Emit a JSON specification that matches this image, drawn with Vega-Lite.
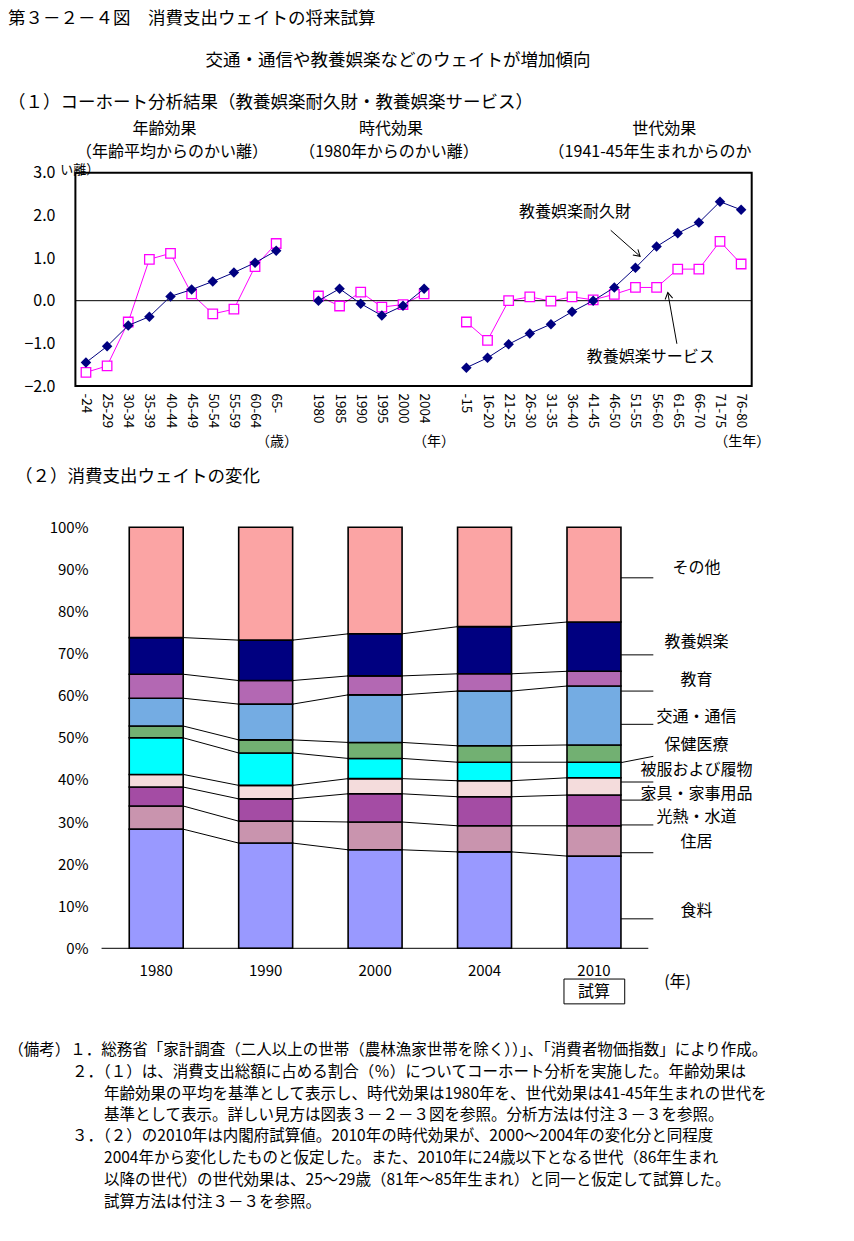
{
  "$schema": "https://vega.github.io/schema/vega-lite/v6.json",
  "autosize": {"type": "pad"},
  "padding": 0,
  "background": "white",
  "spacing": 0,
  "bounds": "flush",
  "config": {
    "font": "Noto Sans CJK JP",
    "view": {"stroke": null},
    "axis": {"grid": false, "ticks": false, "domain": false, "labelColor": "#000", "titleOpacity": 0, "minExtent": 0, "maxExtent": 0},
    "title": {"color": "#000", "subtitleColor": "#000", "fontWeight": "normal", "subtitleFontWeight": "normal"}
  },
  "title": {
    "text": "第３－２－４図　消費支出ウェイトの将来試算",
    "subtitle": "（１）コーホート分析結果（教養娯楽耐久財・教養娯楽サービス）",
    "anchor": "start",
    "frame": "group",
    "orient": "top",
    "dx": 8,
    "offset": -111,
    "fontSize": 17.5,
    "subtitleFontSize": 17.5,
    "subtitlePadding": 66.5
  },
  "datasets": {
    "effects": [
      {"s": "耐久財", "g": "年齢", "c": "-24", "v": -1.45},
      {"s": "耐久財", "g": "年齢", "c": "25-29", "v": -1.07},
      {"s": "耐久財", "g": "年齢", "c": "30-34", "v": -0.58},
      {"s": "耐久財", "g": "年齢", "c": "35-39", "v": -0.375},
      {"s": "耐久財", "g": "年齢", "c": "40-44", "v": 0.10},
      {"s": "耐久財", "g": "年齢", "c": "45-49", "v": 0.26},
      {"s": "耐久財", "g": "年齢", "c": "50-54", "v": 0.45},
      {"s": "耐久財", "g": "年齢", "c": "55-59", "v": 0.66},
      {"s": "耐久財", "g": "年齢", "c": "60-64", "v": 0.89},
      {"s": "耐久財", "g": "年齢", "c": "65-", "v": 1.17},
      {"s": "耐久財", "g": "時代", "c": "1980", "v": 0.0},
      {"s": "耐久財", "g": "時代", "c": "1985", "v": 0.28},
      {"s": "耐久財", "g": "時代", "c": "1990", "v": -0.07},
      {"s": "耐久財", "g": "時代", "c": "1995", "v": -0.35},
      {"s": "耐久財", "g": "時代", "c": "2000", "v": -0.12},
      {"s": "耐久財", "g": "時代", "c": "2004", "v": 0.28},
      {"s": "耐久財", "g": "世代", "c": "-15", "v": -1.57},
      {"s": "耐久財", "g": "世代", "c": "16-20", "v": -1.34},
      {"s": "耐久財", "g": "世代", "c": "21-25", "v": -1.02},
      {"s": "耐久財", "g": "世代", "c": "26-30", "v": -0.77},
      {"s": "耐久財", "g": "世代", "c": "31-35", "v": -0.55},
      {"s": "耐久財", "g": "世代", "c": "36-40", "v": -0.26},
      {"s": "耐久財", "g": "世代", "c": "41-45", "v": 0.0},
      {"s": "耐久財", "g": "世代", "c": "46-50", "v": 0.31},
      {"s": "耐久財", "g": "世代", "c": "51-55", "v": 0.77},
      {"s": "耐久財", "g": "世代", "c": "56-60", "v": 1.27},
      {"s": "耐久財", "g": "世代", "c": "61-65", "v": 1.58},
      {"s": "耐久財", "g": "世代", "c": "66-70", "v": 1.83},
      {"s": "耐久財", "g": "世代", "c": "71-75", "v": 2.32},
      {"s": "耐久財", "g": "世代", "c": "76-80", "v": 2.13},
      {"s": "サービス", "g": "年齢", "c": "-24", "v": -1.68},
      {"s": "サービス", "g": "年齢", "c": "25-29", "v": -1.53},
      {"s": "サービス", "g": "年齢", "c": "30-34", "v": -0.50},
      {"s": "サービス", "g": "年齢", "c": "35-39", "v": 0.97},
      {"s": "サービス", "g": "年齢", "c": "40-44", "v": 1.11},
      {"s": "サービス", "g": "年齢", "c": "45-49", "v": 0.16},
      {"s": "サービス", "g": "年齢", "c": "50-54", "v": -0.31},
      {"s": "サービス", "g": "年齢", "c": "55-59", "v": -0.20},
      {"s": "サービス", "g": "年齢", "c": "60-64", "v": 0.80},
      {"s": "サービス", "g": "年齢", "c": "65-", "v": 1.34},
      {"s": "サービス", "g": "時代", "c": "1980", "v": 0.11},
      {"s": "サービス", "g": "時代", "c": "1985", "v": -0.125},
      {"s": "サービス", "g": "時代", "c": "1990", "v": 0.20},
      {"s": "サービス", "g": "時代", "c": "1995", "v": -0.15},
      {"s": "サービス", "g": "時代", "c": "2000", "v": -0.09},
      {"s": "サービス", "g": "時代", "c": "2004", "v": 0.16},
      {"s": "サービス", "g": "世代", "c": "-15", "v": -0.50},
      {"s": "サービス", "g": "世代", "c": "16-20", "v": -0.93},
      {"s": "サービス", "g": "世代", "c": "21-25", "v": 0.0},
      {"s": "サービス", "g": "世代", "c": "26-30", "v": 0.09},
      {"s": "サービス", "g": "世代", "c": "31-35", "v": -0.01},
      {"s": "サービス", "g": "世代", "c": "36-40", "v": 0.09},
      {"s": "サービス", "g": "世代", "c": "41-45", "v": 0.02},
      {"s": "サービス", "g": "世代", "c": "46-50", "v": 0.15},
      {"s": "サービス", "g": "世代", "c": "51-55", "v": 0.31},
      {"s": "サービス", "g": "世代", "c": "56-60", "v": 0.31},
      {"s": "サービス", "g": "世代", "c": "61-65", "v": 0.74},
      {"s": "サービス", "g": "世代", "c": "66-70", "v": 0.74},
      {"s": "サービス", "g": "世代", "c": "71-75", "v": 1.39},
      {"s": "サービス", "g": "世代", "c": "76-80", "v": 0.86}
    ],
    "shares": [
      {"year": "1980", "cat": "食料", "value": 28.3},
      {"year": "1980", "cat": "住居", "value": 5.5},
      {"year": "1980", "cat": "光熱・水道", "value": 4.5},
      {"year": "1980", "cat": "家具・家事用品", "value": 3.0},
      {"year": "1980", "cat": "被服および履物", "value": 8.7},
      {"year": "1980", "cat": "保健医療", "value": 2.8},
      {"year": "1980", "cat": "交通・通信", "value": 6.6},
      {"year": "1980", "cat": "教育", "value": 5.7},
      {"year": "1980", "cat": "教養娯楽", "value": 8.7},
      {"year": "1980", "cat": "その他", "value": 26.2},
      {"year": "1990", "cat": "食料", "value": 25.0},
      {"year": "1990", "cat": "住居", "value": 5.2},
      {"year": "1990", "cat": "光熱・水道", "value": 5.3},
      {"year": "1990", "cat": "家具・家事用品", "value": 3.2},
      {"year": "1990", "cat": "被服および履物", "value": 7.7},
      {"year": "1990", "cat": "保健医療", "value": 3.1},
      {"year": "1990", "cat": "交通・通信", "value": 8.5},
      {"year": "1990", "cat": "教育", "value": 5.6},
      {"year": "1990", "cat": "教養娯楽", "value": 9.6},
      {"year": "1990", "cat": "その他", "value": 26.8},
      {"year": "2000", "cat": "食料", "value": 23.4},
      {"year": "2000", "cat": "住居", "value": 6.6},
      {"year": "2000", "cat": "光熱・水道", "value": 6.7},
      {"year": "2000", "cat": "家具・家事用品", "value": 3.6},
      {"year": "2000", "cat": "被服および履物", "value": 4.8},
      {"year": "2000", "cat": "保健医療", "value": 3.8},
      {"year": "2000", "cat": "交通・通信", "value": 11.3},
      {"year": "2000", "cat": "教育", "value": 4.5},
      {"year": "2000", "cat": "教養娯楽", "value": 10.0},
      {"year": "2000", "cat": "その他", "value": 25.3},
      {"year": "2004", "cat": "食料", "value": 22.9},
      {"year": "2004", "cat": "住居", "value": 6.2},
      {"year": "2004", "cat": "光熱・水道", "value": 6.9},
      {"year": "2004", "cat": "家具・家事用品", "value": 3.8},
      {"year": "2004", "cat": "被服および履物", "value": 4.4},
      {"year": "2004", "cat": "保健医療", "value": 3.9},
      {"year": "2004", "cat": "交通・通信", "value": 13.0},
      {"year": "2004", "cat": "教育", "value": 4.1},
      {"year": "2004", "cat": "教養娯楽", "value": 11.2},
      {"year": "2004", "cat": "その他", "value": 23.6},
      {"year": "2010", "cat": "食料", "value": 21.9},
      {"year": "2010", "cat": "住居", "value": 7.2},
      {"year": "2010", "cat": "光熱・水道", "value": 7.3},
      {"year": "2010", "cat": "家具・家事用品", "value": 4.1},
      {"year": "2010", "cat": "被服および履物", "value": 3.7},
      {"year": "2010", "cat": "保健医療", "value": 4.1},
      {"year": "2010", "cat": "交通・通信", "value": 14.0},
      {"year": "2010", "cat": "教育", "value": 3.5},
      {"year": "2010", "cat": "教養娯楽", "value": 11.7},
      {"year": "2010", "cat": "その他", "value": 22.5}
    ],
    "labels": [
      {"cat": "その他", "ty": 90.3, "ly1": 88.0, "ly2": 88.0},
      {"cat": "教養娯楽", "ty": 72.8, "ly1": 69.7, "ly2": 69.7},
      {"cat": "教育", "ty": 63.7, "ly1": 61.1, "ly2": 61.1},
      {"cat": "交通・通信", "ty": 54.9, "ly1": 53.2, "ly2": 53.2},
      {"cat": "保健医療", "ty": 48.3, "ly1": 44.1, "ly2": 45.6},
      {"cat": "被服および履物", "ty": 42.3, "ly1": 39.5, "ly2": 39.5},
      {"cat": "家具・家事用品", "ty": 36.6, "ly1": 35.2, "ly2": 35.2},
      {"cat": "光熱・水道", "ty": 31.2, "ly1": 29.3, "ly2": 29.3},
      {"cat": "住居", "ty": 25.2, "ly1": 22.7, "ly2": 22.7},
      {"cat": "食料", "ty": 8.9, "ly1": 7.0, "ly2": 7.0}
    ]
  },
  "vconcat": [
    {
      "width": 854,
      "height": 500,
      "layer": [
        {
          "data": {"name": "effects"},
          "transform": [{"filter": "datum.s === 'サービス'"}],
          "mark": {"type": "line", "color": "#FF00FF", "strokeWidth": 1},
          "encoding": {
            "x": {
              "field": "c", "type": "ordinal", "bandPosition": 0.5,
              "scale": {"type": "band", "domain": ["-24", "25-29", "30-34", "35-39", "40-44", "45-49", "50-54", "55-59", "60-64", "65-", " ", "1980", "1985", "1990", "1995", "2000", "2004", "  ", "-15", "16-20", "21-25", "26-30", "31-35", "36-40", "41-45", "46-50", "51-55", "56-60", "61-65", "66-70", "71-75", "76-80"], "range": [75.4, 751.7], "paddingInner": 0, "paddingOuter": 0},
              "axis": {"orient": "bottom", "labelAngle": 90, "labelAlign": "left", "labelBaseline": "middle", "labelFontSize": 13.5, "labelPadding": -107, "labelOverlap": false, "labelBound": false, "labelLimit": 200, "title": null}
            },
            "y": {
              "field": "v", "type": "quantitative",
              "scale": {"domain": [-2, 3], "range": [386, 172.7], "zero": false, "nice": false},
              "axis": {"orient": "left", "values": [-2, -1, 0, 1, 2, 3], "format": ".1f", "labelAlign": "right", "labelBaseline": "middle", "labelFontSize": 16, "labelPadding": -55, "labelOverlap": false, "title": null}
            },
            "detail": {"field": "g"}
          }
        },
        {
          "data": {"values": [{}]},
          "mark": {"type": "rect", "filled": false, "stroke": "#000", "strokeWidth": 2},
          "encoding": {
            "x": {"datum": "-24", "type": "ordinal", "bandPosition": 0},
            "x2": {"datum": "76-80", "bandPosition": 1},
            "y": {"datum": 3, "type": "quantitative"},
            "y2": {"datum": -2}
          }
        },
        {
          "data": {"values": [{}]},
          "mark": {"type": "rule", "color": "#000", "strokeWidth": 1},
          "encoding": {
            "x": {"datum": "-24", "type": "ordinal", "bandPosition": 0},
            "x2": {"datum": "76-80", "bandPosition": 1},
            "y": {"datum": 0, "type": "quantitative"}
          }
        },
        {
          "data": {"name": "effects"},
          "transform": [{"filter": "datum.s === 'サービス'"}],
          "mark": {"type": "point", "shape": "square", "filled": true, "fill": "#FFFFFF", "stroke": "#FF00FF", "strokeWidth": 1.3, "size": 90, "opacity": 1},
          "encoding": {
            "x": {"field": "c", "type": "ordinal", "bandPosition": 0.5},
            "y": {"field": "v", "type": "quantitative"}
          }
        },
        {
          "data": {"name": "effects"},
          "transform": [{"filter": "datum.s === '耐久財'"}],
          "mark": {"type": "line", "color": "#000080", "strokeWidth": 1},
          "encoding": {
            "x": {"field": "c", "type": "ordinal", "bandPosition": 0.5},
            "y": {"field": "v", "type": "quantitative"},
            "detail": {"field": "g"}
          }
        },
        {
          "data": {"name": "effects"},
          "transform": [{"filter": "datum.s === '耐久財'"}],
          "mark": {"type": "point", "shape": "diamond", "filled": true, "color": "#000080", "size": 110, "opacity": 1},
          "encoding": {
            "x": {"field": "c", "type": "ordinal", "bandPosition": 0.5},
            "y": {"field": "v", "type": "quantitative"}
          }
        },
        {
          "data": {"values": [{}]},
          "mark": {"type": "rule", "color": "#000", "strokeWidth": 1},
          "encoding": {
            "x": {"datum": "46-50", "type": "ordinal", "bandPosition": 0.33},
            "x2": {"datum": "51-55", "bandPosition": 0.72},
            "y": {"datum": 1.65, "type": "quantitative"},
            "y2": {"datum": 1.04}
          }
        },
        {
          "data": {"values": [{}]},
          "mark": {"type": "rule", "color": "#000", "strokeWidth": 1},
          "encoding": {
            "x": {"datum": "61-65", "type": "ordinal", "bandPosition": 0.46},
            "x2": {"datum": "61-65", "bandPosition": 0.03},
            "y": {"datum": -1.01, "type": "quantitative"},
            "y2": {"datum": 0.19}
          }
        },
        {
          "data": {"values": [{}]},
          "mark": {"type": "point", "shape": "M -0.6 1 L 0 0 L 0.6 1", "filled": false, "stroke": "#000", "strokeWidth": 1, "size": 160, "angle": 131.6, "opacity": 1},
          "encoding": {
            "x": {"datum": "51-55", "type": "ordinal", "bandPosition": 0.72},
            "y": {"datum": 1.04, "type": "quantitative"}
          }
        },
        {
          "data": {"values": [{}]},
          "mark": {"type": "point", "shape": "M -0.6 1 L 0 0 L 0.6 1", "filled": false, "stroke": "#000", "strokeWidth": 1, "size": 160, "angle": 350, "opacity": 1},
          "encoding": {
            "x": {"datum": "61-65", "type": "ordinal", "bandPosition": 0.03},
            "y": {"datum": 0.19, "type": "quantitative"}
          }
        },
        {
          "data": {"values": [{}]},
          "mark": {"type": "text", "text": "教養娯楽耐久財", "fontSize": 16, "align": "center", "baseline": "middle", "color": "#000"},
          "encoding": {
            "x": {"datum": "36-40", "type": "ordinal", "bandPosition": 0.64},
            "y": {"datum": 2.08, "type": "quantitative"}
          }
        },
        {
          "data": {"values": [{}]},
          "mark": {"type": "text", "text": "教養娯楽サービス", "fontSize": 16, "align": "center", "baseline": "middle", "color": "#000"},
          "encoding": {
            "x": {"datum": "56-60", "type": "ordinal", "bandPosition": 0.22},
            "y": {"datum": -1.32, "type": "quantitative"}
          }
        },
        {
          "data": {"values": [{}]},
          "mark": {"type": "text", "text": "交通・通信や教養娯楽などのウェイトが増加傾向", "fontSize": 17.5, "align": "center", "baseline": "middle", "color": "#000"},
          "encoding": {
            "x": {"datum": "2000", "type": "ordinal", "bandPosition": 0.27},
            "y": {"datum": 5.63, "type": "quantitative"}
          }
        },
        {
          "data": {"values": [{}]},
          "mark": {"type": "text", "text": "年齢効果", "fontSize": 16, "align": "center", "baseline": "middle", "color": "#000"},
          "encoding": {
            "x": {"datum": "40-44", "type": "ordinal", "bandPosition": 0.22},
            "y": {"datum": 4.02, "type": "quantitative"}
          }
        },
        {
          "data": {"values": [{}]},
          "mark": {"type": "text", "text": "（年齢平均からのかい離）", "fontSize": 16, "align": "center", "baseline": "middle", "color": "#000"},
          "encoding": {
            "x": {"datum": "40-44", "type": "ordinal", "bandPosition": 0.57},
            "y": {"datum": 3.48, "type": "quantitative"}
          }
        },
        {
          "data": {"values": [{}]},
          "mark": {"type": "text", "text": "時代効果", "fontSize": 16, "align": "center", "baseline": "middle", "color": "#000"},
          "encoding": {
            "x": {"datum": "1995", "type": "ordinal", "bandPosition": 0.93},
            "y": {"datum": 4.02, "type": "quantitative"}
          }
        },
        {
          "data": {"values": [{}]},
          "mark": {"type": "text", "text": "（1980年からのかい離）", "fontSize": 16, "align": "center", "baseline": "middle", "color": "#000"},
          "encoding": {
            "x": {"datum": "1995", "type": "ordinal", "bandPosition": 0.84},
            "y": {"datum": 3.48, "type": "quantitative"}
          }
        },
        {
          "data": {"values": [{}]},
          "mark": {"type": "text", "text": "世代効果", "fontSize": 16, "align": "center", "baseline": "middle", "color": "#000"},
          "encoding": {
            "x": {"datum": "56-60", "type": "ordinal", "bandPosition": 0.86},
            "y": {"datum": 4.02, "type": "quantitative"}
          }
        },
        {
          "data": {"values": [{}]},
          "mark": {"type": "text", "text": "（1941-45年生まれからのか", "fontSize": 16, "align": "center", "baseline": "middle", "color": "#000"},
          "encoding": {
            "x": {"datum": "56-60", "type": "ordinal", "bandPosition": 0.19},
            "y": {"datum": 3.48, "type": "quantitative"}
          }
        },
        {
          "data": {"values": [{}]},
          "mark": {"type": "text", "text": "い離）", "fontSize": 13, "align": "center", "baseline": "middle", "color": "#000"},
          "encoding": {
            "x": {"datum": "-24", "type": "ordinal", "bandPosition": 0.2},
            "y": {"datum": 3.06, "type": "quantitative"}
          }
        },
        {
          "data": {"values": [{}]},
          "mark": {"type": "text", "text": "（歳）", "fontSize": 14, "align": "center", "baseline": "middle", "color": "#000"},
          "encoding": {
            "x": {"datum": "65-", "type": "ordinal", "bandPosition": 0.54},
            "y": {"datum": -3.32, "type": "quantitative"}
          }
        },
        {
          "data": {"values": [{}]},
          "mark": {"type": "text", "text": "（年）", "fontSize": 14, "align": "center", "baseline": "middle", "color": "#000"},
          "encoding": {
            "x": {"datum": "2004", "type": "ordinal", "bandPosition": 0.97},
            "y": {"datum": -3.32, "type": "quantitative"}
          }
        },
        {
          "data": {"values": [{}]},
          "mark": {"type": "text", "text": "（生年）", "fontSize": 14, "align": "center", "baseline": "middle", "color": "#000"},
          "encoding": {
            "x": {"datum": "76-80", "type": "ordinal", "bandPosition": 0.55},
            "y": {"datum": -3.32, "type": "quantitative"}
          }
        },
        {
          "data": {"values": [{}]},
          "mark": {"type": "text", "text": "（２）消費支出ウェイトの変化", "fontSize": 17.5, "align": "left", "baseline": "middle", "color": "#000"},
          "encoding": {
            "x": {"datum": "-24", "type": "ordinal", "bandPosition": -2.86},
            "y": {"datum": -4.14, "type": "quantitative"}
          }
        }
      ]
    },
    {
      "width": 854,
      "height": 741,
      "layer": [
        {
          "data": {"name": "shares"},
          "transform": [{"stack": "value", "groupby": ["year"], "as": ["lo", "hi"], "offset": "zero"}],
          "mark": {"type": "bar", "stroke": "#000", "strokeWidth": 1.6},
          "encoding": {
            "x": {
              "field": "year", "type": "ordinal",
              "scale": {"type": "band", "domain": ["1980", "1990", "2000", "2004", "2010"], "range": [101.5, 648.7], "paddingInner": 0.507, "paddingOuter": 0.2535},
              "axis": {"orient": "bottom", "labelAngle": 0, "labelAlign": "center", "labelBaseline": "top", "labelFontSize": 15, "labelPadding": -278, "title": null}
            },
            "y": {
              "field": "lo", "type": "quantitative",
              "scale": {"domain": [0, 100], "range": [448.3, 27.3], "zero": false, "nice": false},
              "axis": {"orient": "left", "values": [0, 10, 20, 30, 40, 50, 60, 70, 80, 90, 100], "labelExpr": "datum.value + '%'", "labelAlign": "right", "labelBaseline": "middle", "labelFontSize": 15, "labelPadding": -88, "labelOverlap": false, "title": null}
            },
            "y2": {"field": "hi"},
            "color": {
              "field": "cat", "type": "nominal", "legend": null,
              "scale": {"domain": ["食料", "住居", "光熱・水道", "家具・家事用品", "被服および履物", "保健医療", "交通・通信", "教育", "教養娯楽", "その他"],
                "range": ["#9999FF", "#C994AE", "#A44CA4", "#F4DCDC", "#00FFFF", "#72B072", "#74ACE3", "#B368B3", "#000080", "#FBA4A4"]}
            }
          }
        },
        {
          "data": {"values": [{}]},
          "mark": {"type": "rule", "color": "#000", "strokeWidth": 1},
          "encoding": {
            "x": {"datum": "1980", "type": "ordinal", "bandPosition": -0.513},
            "x2": {"datum": "2010", "bandPosition": 1.507},
            "y": {"datum": 0, "type": "quantitative"}
          }
        },
        {
          "data": {"name": "shares"},
          "transform": [
            {"stack": "value", "groupby": ["year"], "as": ["lo", "hi"], "offset": "zero"},
            {"window": [{"op": "lead", "field": "hi", "as": "nhi"}, {"op": "lead", "field": "year", "as": "nyear"}], "groupby": ["cat"], "sort": [{"field": "year"}]},
            {"filter": "datum.nyear != null && datum.cat !== 'その他'"}
          ],
          "mark": {"type": "rule", "color": "#000", "strokeWidth": 1},
          "encoding": {
            "x": {"field": "year", "type": "ordinal", "bandPosition": 1},
            "x2": {"field": "nyear", "bandPosition": 0},
            "y": {"field": "hi", "type": "quantitative"},
            "y2": {"field": "nhi"}
          }
        },
        {
          "data": {"name": "labels"},
          "mark": {"type": "rule", "color": "#000", "strokeWidth": 1},
          "encoding": {
            "x": {"datum": "2010", "type": "ordinal", "bandPosition": 1},
            "x2": {"datum": "2010", "bandPosition": 1.6},
            "y": {"field": "ly1", "type": "quantitative"},
            "y2": {"field": "ly2"}
          }
        },
        {
          "data": {"name": "labels"},
          "mark": {"type": "text", "fontSize": 16, "align": "center", "baseline": "middle", "color": "#000"},
          "encoding": {
            "x": {"datum": "2010", "type": "ordinal", "bandPosition": 2.4},
            "y": {"field": "ty", "type": "quantitative"},
            "text": {"field": "cat"}
          }
        },
        {
          "data": {"values": [{}]},
          "mark": {"type": "text", "text": "(年)", "fontSize": 16, "align": "center", "baseline": "middle", "color": "#000"},
          "encoding": {
            "x": {"datum": "2010", "type": "ordinal", "bandPosition": 2.05},
            "y": {"datum": -8.0, "type": "quantitative"}
          }
        },
        {
          "data": {"values": [{}]},
          "mark": {"type": "rect", "filled": false, "stroke": "#000", "strokeWidth": 1},
          "encoding": {
            "x": {"datum": "2010", "type": "ordinal", "bandPosition": -0.056},
            "x2": {"datum": "2010", "bandPosition": 1.07},
            "y": {"datum": -7.3, "type": "quantitative"},
            "y2": {"datum": -13.2}
          }
        },
        {
          "data": {"values": [{}]},
          "mark": {"type": "text", "text": "試算", "fontSize": 16, "align": "center", "baseline": "middle", "color": "#000"},
          "encoding": {
            "x": {"datum": "2010", "type": "ordinal", "bandPosition": 0.5},
            "y": {"datum": -10.3, "type": "quantitative"}
          }
        },
        {
          "data": {"values": [{}]},
          "mark": {"type": "text", "text": "（備考）１．総務省「家計調査（二人以上の世帯（農林漁家世帯を除く））」、「消費者物価指数」により作成。", "fontSize": 15.5, "align": "left", "baseline": "middle", "color": "#000"},
          "encoding": {
            "x": {"datum": "1980", "type": "ordinal", "bandPosition": -2.244},
            "y": {"datum": -24.16, "type": "quantitative"}
          }
        },
        {
          "data": {"values": [{}]},
          "mark": {"type": "text", "text": "２．（１）は、消費支出総額に占める割合（％）についてコーホート分析を実施した。年齢効果は", "fontSize": 15.5, "align": "left", "baseline": "middle", "color": "#000"},
          "encoding": {
            "x": {"datum": "1980", "type": "ordinal", "bandPosition": -1.059},
            "y": {"datum": -29.38, "type": "quantitative"}
          }
        },
        {
          "data": {"values": [{}]},
          "mark": {"type": "text", "text": "年齢効果の平均を基準として表示し、時代効果は1980年を、世代効果は41-45年生まれの世代を", "fontSize": 15.5, "align": "left", "baseline": "middle", "color": "#000"},
          "encoding": {
            "x": {"datum": "1980", "type": "ordinal", "bandPosition": -0.467},
            "y": {"datum": -34.49, "type": "quantitative"}
          }
        },
        {
          "data": {"values": [{}]},
          "mark": {"type": "text", "text": "基準として表示。詳しい見方は図表３－２－３図を参照。分析方法は付注３－３を参照。", "fontSize": 15.5, "align": "left", "baseline": "middle", "color": "#000"},
          "encoding": {
            "x": {"datum": "1980", "type": "ordinal", "bandPosition": -0.467},
            "y": {"datum": -39.6, "type": "quantitative"}
          }
        },
        {
          "data": {"values": [{}]},
          "mark": {"type": "text", "text": "３．（２）の2010年は内閣府試算値。2010年の時代効果が、2000～2004年の変化分と同程度", "fontSize": 15.5, "align": "left", "baseline": "middle", "color": "#000"},
          "encoding": {
            "x": {"datum": "1980", "type": "ordinal", "bandPosition": -1.059},
            "y": {"datum": -44.7, "type": "quantitative"}
          }
        },
        {
          "data": {"values": [{}]},
          "mark": {"type": "text", "text": "2004年から変化したものと仮定した。また、2010年に24歳以下となる世代（86年生まれ", "fontSize": 15.5, "align": "left", "baseline": "middle", "color": "#000"},
          "encoding": {
            "x": {"datum": "1980", "type": "ordinal", "bandPosition": -0.467},
            "y": {"datum": -49.81, "type": "quantitative"}
          }
        },
        {
          "data": {"values": [{}]},
          "mark": {"type": "text", "text": "以降の世代）の世代効果は、25～29歳（81年～85年生まれ）と同一と仮定して試算した。", "fontSize": 15.5, "align": "left", "baseline": "middle", "color": "#000"},
          "encoding": {
            "x": {"datum": "1980", "type": "ordinal", "bandPosition": -0.467},
            "y": {"datum": -55.04, "type": "quantitative"}
          }
        },
        {
          "data": {"values": [{}]},
          "mark": {"type": "text", "text": "試算方法は付注３－３を参照。", "fontSize": 15.5, "align": "left", "baseline": "middle", "color": "#000"},
          "encoding": {
            "x": {"datum": "1980", "type": "ordinal", "bandPosition": -0.467},
            "y": {"datum": -60.26, "type": "quantitative"}
          }
        }
      ]
    }
  ]
}
